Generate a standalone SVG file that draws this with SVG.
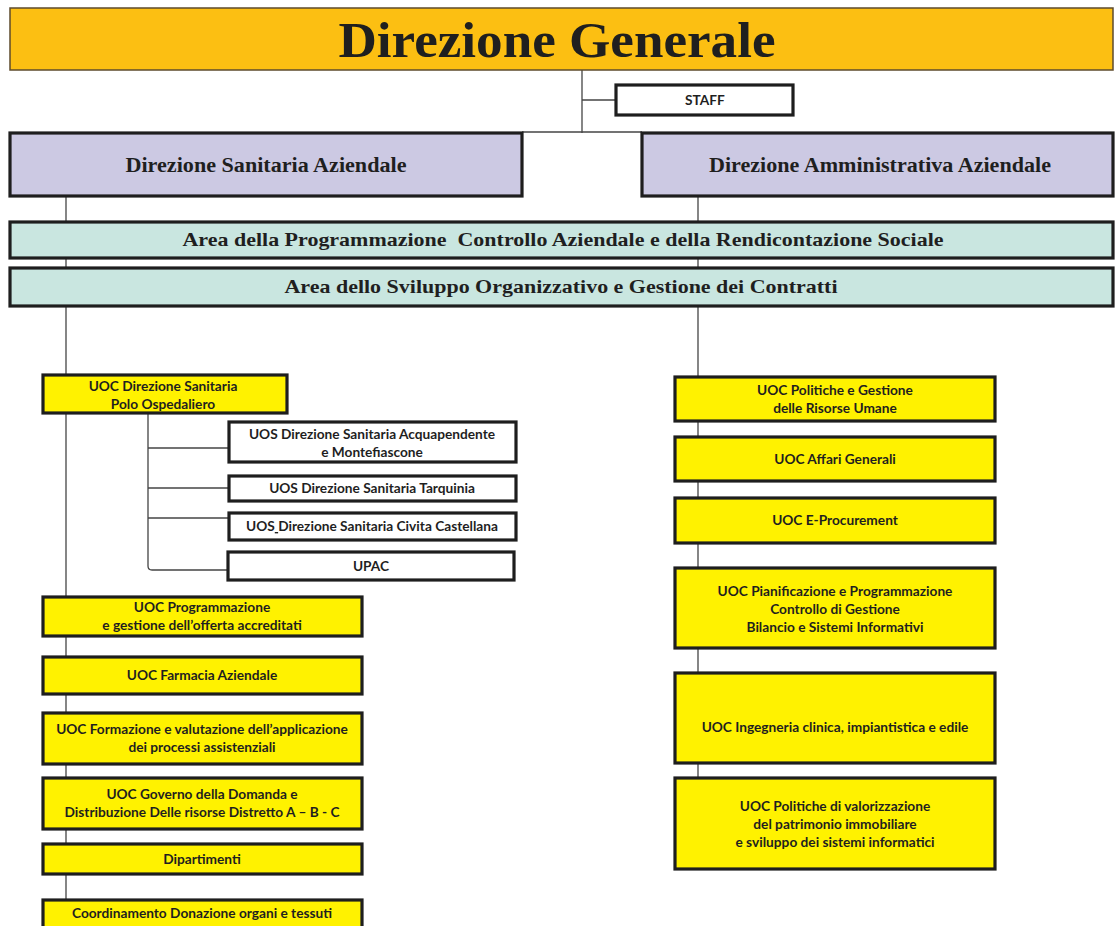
<svg xmlns="http://www.w3.org/2000/svg" width="1115" height="926" viewBox="0 0 1115 926">
<style>
.bg{fill:#ffffff}
.banner{fill:#FCBF12;stroke:#5e4b2c;stroke-width:1.5}
.purple{fill:#CCC9E3;stroke:#1e1e1e;stroke-width:3.2}
.teal{fill:#C9E6E0;stroke:#1e1e1e;stroke-width:3.2}
.yel{fill:#FFF200;stroke:#1e1e1e;stroke-width:3.2}
.wht{fill:#ffffff;stroke:#1e1e1e;stroke-width:3.2}
.ln{fill:none;stroke:#444444;stroke-width:1.3}
.serif{font-family:"Liberation Serif","DejaVu Serif",serif;font-weight:bold;fill:#1f1f1f;text-anchor:middle}
.sans{font-family:Lato,"Liberation Sans",sans-serif;font-weight:bold;font-size:13.7px;fill:#1f1f1f;text-anchor:middle}
</style>
<rect class="bg" x="0" y="0" width="1115" height="926"/>
<g id="connectors">
<line class="ln" x1="582" y1="70" x2="582" y2="133"/>
<line class="ln" x1="582" y1="100" x2="616" y2="100"/>
<line class="ln" x1="522" y1="132" x2="642" y2="132"/>
<line class="ln" x1="66" y1="196" x2="66" y2="900"/>
<line class="ln" x1="698" y1="196" x2="698" y2="778"/>
<path class="ln" d="M148 413 V566 Q148 570 152 570 H228"/>
<line class="ln" x1="148" y1="448" x2="229" y2="448"/>
<line class="ln" x1="148" y1="488" x2="229" y2="488"/>
<line class="ln" x1="148" y1="518" x2="229" y2="518"/>
</g>
<g id="direzione-generale">
<rect class="banner" x="10" y="8" width="1103" height="62"/>
<text class="serif" x="557" y="57" font-size="50" textLength="437" lengthAdjust="spacingAndGlyphs" fill="#2a1a0a">Direzione Generale</text>
</g>
<g id="staff">
<rect class="wht" x="616" y="85" width="177" height="30"/>
<text class="sans" x="705" y="105">STAFF</text>
</g>
<g id="direzione-sanitaria">
<rect class="purple" x="10" y="133" width="512" height="63"/>
<text class="serif" x="266" y="172" font-size="20" textLength="281" lengthAdjust="spacingAndGlyphs">Direzione Sanitaria Aziendale</text>
</g>
<g id="direzione-amministrativa">
<rect class="purple" x="642" y="133" width="471" height="63"/>
<text class="serif" x="880" y="172" font-size="20" textLength="342" lengthAdjust="spacingAndGlyphs">Direzione Amministrativa Aziendale</text>
</g>
<g id="area-programmazione">
<rect class="teal" x="10" y="222" width="1103" height="36"/>
<text class="serif" x="563" y="246" font-size="19" textLength="761" lengthAdjust="spacingAndGlyphs" xml:space="preserve">Area della Programmazione  Controllo Aziendale e della Rendicontazione Sociale</text>
</g>
<g id="area-sviluppo">
<rect class="teal" x="10" y="268" width="1103" height="38"/>
<text class="serif" x="561" y="293" font-size="19" textLength="553" lengthAdjust="spacingAndGlyphs">Area dello Sviluppo Organizzativo e Gestione dei Contratti</text>
</g>
<g id="uoc-ds-polo">
<rect class="yel" x="43" y="375" width="244" height="38"/>
<text class="sans" x="163" y="391">UOC Direzione Sanitaria</text>
<text class="sans" x="163" y="409">Polo Ospedaliero</text>
</g>
<g id="uos-acquapendente">
<rect class="wht" x="229" y="422" width="287" height="40"/>
<text class="sans" x="372" y="439">UOS Direzione Sanitaria Acquapendente</text>
<text class="sans" x="372" y="457">e Montefiascone</text>
</g>
<g id="uos-tarquinia">
<rect class="wht" x="229" y="476" width="287" height="25"/>
<text class="sans" x="372" y="493">UOS Direzione Sanitaria Tarquinia</text>
</g>
<g id="uos-civita">
<rect class="wht" x="229" y="513" width="287" height="27"/>
<text class="sans" x="372" y="531">UOS<tspan text-decoration="underline" xml:space="preserve"> </tspan>Direzione Sanitaria Civita Castellana</text>
</g>
<g id="upac">
<rect class="wht" x="228" y="552" width="286" height="28"/>
<text class="sans" x="371" y="571">UPAC</text>
</g>
<g id="uoc-programmazione">
<rect class="yel" x="43" y="597" width="319" height="39"/>
<text class="sans" x="202" y="612">UOC Programmazione</text>
<text class="sans" x="202" y="630">e gestione dell’offerta accreditati</text>
</g>
<g id="uoc-farmacia">
<rect class="yel" x="43" y="657" width="319" height="37"/>
<text class="sans" x="202" y="680">UOC Farmacia Aziendale</text>
</g>
<g id="uoc-formazione">
<rect class="yel" x="43" y="713" width="319" height="51"/>
<text class="sans" x="202" y="734">UOC Formazione e valutazione dell’applicazione</text>
<text class="sans" x="202" y="752">dei processi assistenziali</text>
</g>
<g id="uoc-governo">
<rect class="yel" x="43" y="778" width="319" height="51"/>
<text class="sans" x="202" y="799">UOC Governo della Domanda e</text>
<text class="sans" x="202" y="817">Distribuzione Delle risorse Distretto A – B - C</text>
</g>
<g id="dipartimenti">
<rect class="yel" x="43" y="844" width="319" height="30"/>
<text class="sans" x="202" y="864">Dipartimenti</text>
</g>
<g id="coordinamento">
<rect class="yel" x="43" y="900" width="319" height="32"/>
<text class="sans" x="202" y="918">Coordinamento Donazione organi e tessuti</text>
</g>
<g id="uoc-risorse-umane">
<rect class="yel" x="675" y="377" width="320" height="44"/>
<text class="sans" x="835" y="395">UOC Politiche e Gestione</text>
<text class="sans" x="835" y="413">delle Risorse Umane</text>
</g>
<g id="uoc-affari-generali">
<rect class="yel" x="675" y="437" width="320" height="44"/>
<text class="sans" x="835" y="464">UOC Affari Generali</text>
</g>
<g id="uoc-e-procurement">
<rect class="yel" x="675" y="498" width="320" height="45"/>
<text class="sans" x="835" y="525">UOC E-Procurement</text>
</g>
<g id="uoc-pianificazione">
<rect class="yel" x="675" y="568" width="320" height="80"/>
<text class="sans" x="835" y="596">UOC Pianificazione e Programmazione</text>
<text class="sans" x="835" y="614">Controllo di Gestione</text>
<text class="sans" x="835" y="632">Bilancio e Sistemi Informativi</text>
</g>
<g id="uoc-ingegneria">
<rect class="yel" x="675" y="673" width="320" height="90"/>
<text class="sans" x="835" y="732">UOC Ingegneria clinica, impiantistica e edile</text>
</g>
<g id="uoc-valorizzazione">
<rect class="yel" x="675" y="778" width="320" height="91"/>
<text class="sans" x="835" y="811">UOC Politiche di valorizzazione</text>
<text class="sans" x="835" y="829">del patrimonio immobiliare</text>
<text class="sans" x="835" y="847">e sviluppo dei sistemi informatici</text>
</g>
</svg>
